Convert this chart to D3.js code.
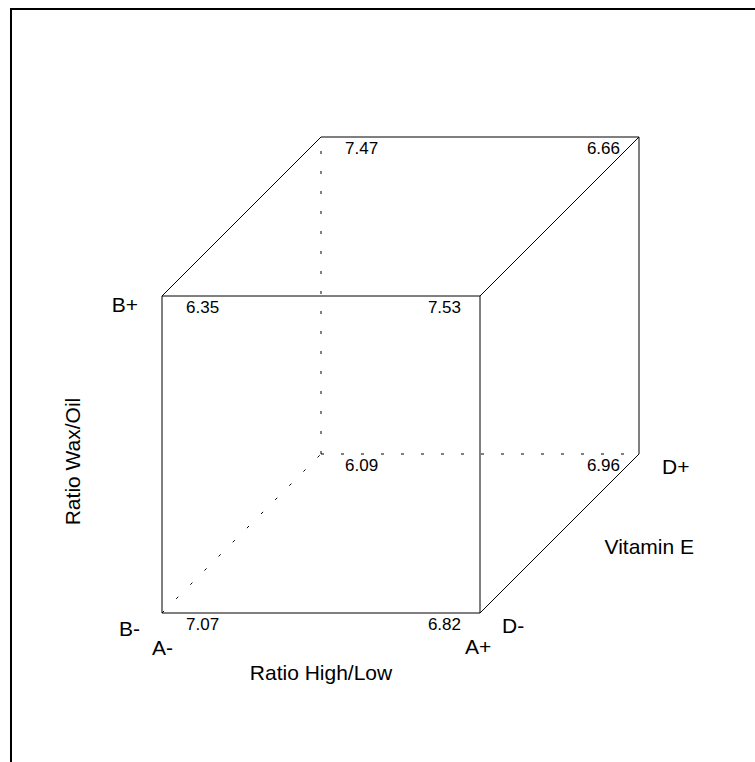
<!DOCTYPE html>
<html>
<head>
<meta charset="utf-8">
<title>Cube plot</title>
<style>
  body { margin: 0; background: #fff; }
  text { font-family: "Liberation Sans", Arial, sans-serif; fill: #000; }
</style>
<script src="https://d3js.org/d3.v7.min.js"></script>
</head>
<body>
<div id="chart"></div>
<script>
// factor names and levels
var factorNames = ["Ratio High/Low", "Ratio Wax/Oil", "Vitamin E"];
var levelsA = ["A-", "A+"];
var levelsB = ["B-", "B+"];
var levelsD = ["D-", "D+"];

// corner coded levels (A, B, D) and the response at each corner
var cornerA = [-1, 1, -1, 1, -1, 1, -1, 1];
var cornerB = [-1, -1, 1, 1, -1, -1, 1, 1];
var cornerD = [-1, -1, -1, -1, 1, 1, 1, 1];
var cornerValues = [7.07, 6.82, 6.35, 7.53, 6.09, 6.96, 7.47, 6.66];

var W = 755, H = 762;

var svg = d3.select("#chart").append("svg")
    .attr("width", W)
    .attr("height", H);

// frame (runs past the right and bottom edges)
svg.append("rect")
    .attr("x", 11).attr("y", 9)
    .attr("width", 800).attr("height", 800)
    .attr("fill", "none")
    .attr("stroke", "#000")
    .attr("stroke-width", 2);

var x = d3.scaleLinear().domain([-1, 1]).range([162, 480]);
var y = d3.scaleLinear().domain([-1, 1]).range([613, 296]);
var depth = d3.scaleLinear().domain([-1, 1]).range([0, 159]);

function px(a, d) { return x(a) + depth(d); }
function py(b, d) { return y(b) - depth(d); }

var corners = cornerValues.map(function(v, i) {
    return {a: cornerA[i], b: cornerB[i], d: cornerD[i], value: v};
});

// edges join corners that differ in exactly one factor
var edges = [];
corners.forEach(function(c1, i) {
    corners.forEach(function(c2, j) {
        if (j <= i) return;
        var diff = (c1.a != c2.a) + (c1.b != c2.b) + (c1.d != c2.d);
        if (diff == 1) edges.push([c1, c2]);
    });
});

// the hidden corner is A-, B-, D+
function hidden(c) { return c.a == -1 && c.b == -1 && c.d == 1; }

svg.append("g").selectAll("line")
    .data(edges)
    .join("line")
    .attr("x1", function(e) { return px(e[0].a, e[0].d); })
    .attr("y1", function(e) { return py(e[0].b, e[0].d); })
    .attr("x2", function(e) { return px(e[1].a, e[1].d); })
    .attr("y2", function(e) { return py(e[1].b, e[1].d); })
    .attr("stroke", "#000")
    .attr("stroke-width", 1)
    .attr("stroke-dasharray", function(e) {
        return (hidden(e[0]) || hidden(e[1])) ? "3,17" : null;
    });

// corner values
svg.append("g").selectAll("text")
    .data(corners)
    .join("text")
    .attr("x", function(c) { return px(c.a, c.d) + (c.a < 0 ? 24 : -19); })
    .attr("y", function(c) { return py(c.b, c.d) + 17; })
    .attr("text-anchor", function(c) { return c.a < 0 ? "start" : "end"; })
    .style("font-size", "17px")
    .text(function(c) { return c.value.toFixed(2); });

// level labels
var big = "21px";
function label(tx, ty, s, anchor) {
    svg.append("text")
        .attr("x", tx).attr("y", ty)
        .attr("text-anchor", anchor || "start")
        .style("font-size", big)
        .text(s);
}
label(x(-1) - 10, y(-1) + 42, levelsA[0]);
label(x(1) - 15, y(-1) + 41, levelsA[1]);
label(x(-1) - 22, y(-1) + 23, levelsB[0], "end");
label(x(-1) - 24, y(1) + 16, levelsB[1], "end");
label(x(1) + 22, y(-1) + 20, levelsD[0]);
label(px(1, 1) + 23, py(-1, 1) + 20, levelsD[1]);

// factor names
label((x(-1) + x(1)) / 2, y(-1) + 67, factorNames[0], "middle");
label(px(1, 0) + 45, py(-1, 0) + 20, factorNames[2]);
svg.append("text")
    .attr("transform", "translate(80," + ((y(-1) + y(1)) / 2 + 7) + ") rotate(-90)")
    .attr("text-anchor", "middle")
    .style("font-size", big)
    .text(factorNames[1]);
</script>
</body>
</html>
